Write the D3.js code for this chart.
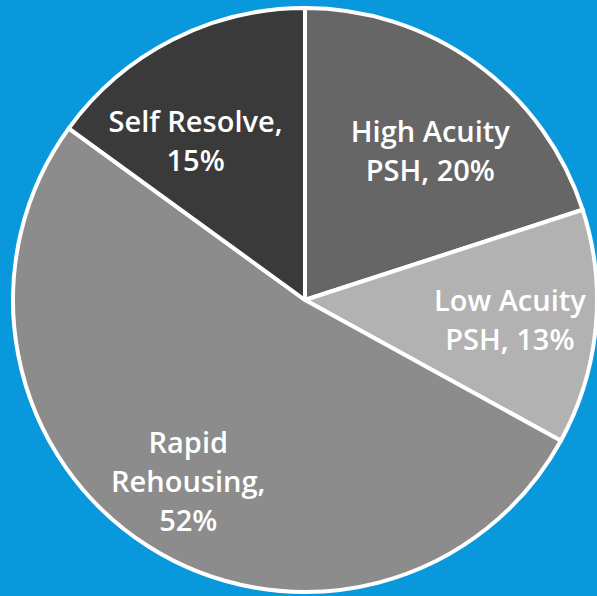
<!DOCTYPE html>
<html><head><meta charset="utf-8">
<script src="https://cdn.jsdelivr.net/npm/d3@7"></script>
<style>html,body{margin:0;padding:0;background:#0a98dc;}svg{display:block;}</style>
</head><body>
<svg id="c" width="597" height="596"></svg>
<script>
const categories = ["High Acuity PSH", "Low Acuity PSH", "Rapid Rehousing", "Self Resolve"];
const values = [20, 13, 52, 15];
const labelLines = [["High Acuity", "PSH, 20%"], ["Low Acuity", "PSH, 13%"], ["Rapid", "Rehousing,", "52%"], ["Self Resolve,", "15%"]];
const colors = ["#666666", "#b2b2b2", "#8c8c8c", "#3a3a3a"];
// label placement: [angle in degrees clockwise from top, radius fraction]
const labelPolar = [[40.2, 0.665], [95.6, 0.705], [212.7, 0.74], [325.4, 0.66]];

const W = 597, H = 596, cx = 305, cy = 300, R = 292;
const svg = d3.select("#c");
svg.append("rect").attr("width", W).attr("height", H).attr("fill", "#0a98dc");
const g = svg.append("g").attr("transform", `translate(${cx},${cy})`);
const pie = d3.pie().sort(null).value(d => d)(values);
const arc = d3.arc().innerRadius(0).outerRadius(R);
g.selectAll("path").data(pie).join("path")
  .attr("d", arc).attr("fill", (d, i) => colors[i])
  .attr("stroke", "#fff").attr("stroke-width", 4).attr("stroke-linejoin", "round");
const lh = 39;
pie.forEach((d, i) => {
  const a = labelPolar[i][0] * Math.PI / 180, r = labelPolar[i][1] * R;
  const x = r * Math.sin(a), y = -r * Math.cos(a);
  const lines = labelLines[i];
  const t = g.append("text").attr("text-anchor", "middle")
    .attr("font-family", "'Open Sans', Lato, sans-serif").attr("font-weight", 600)
    .attr("font-size", 29).attr("fill", "#fff");
  lines.forEach((s, j) => {
    t.append("tspan").attr("x", x).attr("y", y + (j - (lines.length - 1) / 2) * lh)
      .attr("dy", "0.35em").text(s);
  });
});
</script>
</body></html>
